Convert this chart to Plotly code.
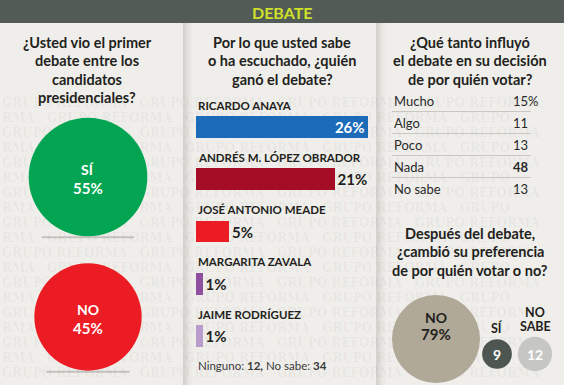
import plotly.graph_objects as go
import math

# ---------------- data ----------------
watched_labels = ["SÍ", "NO"]
watched_values = [55, 45]

winner_names = ["RICARDO ANAYA", "ANDRÉS M. LÓPEZ OBRADOR", "JOSÉ ANTONIO MEADE",
                "MARGARITA ZAVALA", "JAIME RODRÍGUEZ"]
winner_values = [26, 21, 5, 1, 1]
ninguno = 12
no_sabe_winner = 34

influence_labels = ["Mucho", "Algo", "Poco", "Nada", "No sabe"]
influence_values = [15, 11, 13, 48, 13]

change_labels = ["NO", "SÍ", "NO SABE"]
change_values = [79, 9, 12]

# ---------------- style ----------------
W, H = 564, 385
BG = "#efeeea"
DARK = "#231f20"
TITLE_FONT = "Lato"
winner_colors = ["#1a6bb8", "#a50d25", "#ec1c24", "#8e4f9e", "#b89ccc"]
watched_colors = ["#03a552", "#ec1c24"]
change_colors = ["#b0a998", "#4d5651", "#c6c6c4"]

fig = go.Figure()

# watermark texture (decoration), kept inside the frame
wm_x, wm_y, wm_t = [], [], []
for i, yy in enumerate(range(104, 380, 15)):
    if i % 2 == 0:
        wm_t.append("   ".join(["GRUPO REFORMA"] * 4))
    else:
        wm_t.append("RMA   " + "   ".join(["GRUPO REFORMA"] * 3) + "   GRUPO")
    wm_x.append(2)
    wm_y.append(yy)
fig.add_trace(go.Scatter(x=wm_x, y=wm_y, text=wm_t, mode="text", textposition="middle right",
                         textfont=dict(family="DejaVu Serif", size=12, color="rgba(0,0,0,0.045)", weight="bold"),
                         hoverinfo="skip", showlegend=False, cliponaxis=True, xaxis="x", yaxis="y"))

# left circles: size proportional to sqrt(value)
k1 = 16.0
left_pos = [(88, 177), (88, 317)]
fig.add_trace(go.Scatter(
    x=[p[0] for p in left_pos], y=[p[1] for p in left_pos], mode="markers",
    marker=dict(size=[k1 * math.sqrt(v) for v in watched_values], color=watched_colors, line=dict(width=0), opacity=1),
    hoverinfo="skip", showlegend=False, xaxis="x", yaxis="y"))

# right-bottom circles
k2 = 9.9
right_pos = [(436, 339), (497, 354), (535, 354)]
fig.add_trace(go.Scatter(
    x=[p[0] for p in right_pos], y=[p[1] for p in right_pos], mode="markers",
    marker=dict(size=[k2 * math.sqrt(v) for v in change_values], color=change_colors, line=dict(width=0), opacity=1),
    hoverinfo="skip", showlegend=False, xaxis="x", yaxis="y"))

# bars
textpos = ["inside" if i == 0 else "outside" for i, v in enumerate(winner_values)]
fig.add_trace(go.Bar(
    x=winner_values, y=winner_names, orientation="h", marker=dict(color=winner_colors, line=dict(width=0)),
    width=0.42, text=[f"{v}%" for v in winner_values], textposition=textpos, insidetextanchor="end",
    insidetextfont=dict(family=TITLE_FONT, size=15, color="white", weight="bold"),
    outsidetextfont=dict(family=TITLE_FONT, size=15, color=DARK, weight="bold"),
    constraintext="none", cliponaxis=False, hoverinfo="skip", showlegend=False, xaxis="x2", yaxis="y2"))

shapes = []
annotations = []

# header
shapes.append(dict(type="rect", xref="x", yref="y", x0=0, x1=W, y0=0, y1=23, fillcolor="#525b56", line=dict(width=0), layer="below"))
annotations.append(dict(xref="x", yref="y", x=W / 2, y=12, text="<b>DEBATE</b>", showarrow=False,
                        font=dict(family=TITLE_FONT, size=16, color="#cfe02a")))

# panel dividers / shadows
for xd in (183, 376):
    shapes.append(dict(type="rect", xref="x", yref="y", x0=xd, x1=xd + 2, y0=23, y1=H, fillcolor="#d4d3ce", line=dict(width=0), layer="below"))
    for j, a in enumerate([0.09, 0.06, 0.04, 0.025, 0.015]):
        shapes.append(dict(type="rect", xref="x", yref="y", x0=xd + 2 + j * 1.5, x1=xd + 3.5 + j * 1.5, y0=23, y1=H,
                           fillcolor=f"rgba(0,0,0,{a})", line=dict(width=0), layer="below"))

# circle shadows (left)
for (cx, cy), v in zip(left_pos, watched_values):
    r = k1 * math.sqrt(v) / 2
    shapes.append(dict(type="line", xref="x", yref="y", x0=cx - r * 0.78, x1=cx + r * 0.78, y0=cy + r + 1, y1=cy + r + 1,
                       line=dict(color="rgba(0,0,0,0.18)", width=2), layer="below"))

def title(lines, cx, y0, step=18.5, size=14.5):
    for i, t in enumerate(lines):
        annotations.append(dict(xref="x", yref="y", x=cx, y=y0 + i * step, text=f"<b>{t}</b>", showarrow=False,
                                font=dict(family=TITLE_FONT, size=size, color=DARK)))

title(["¿Usted vio el primer", "debate entre los", "candidatos", "presidenciales?"], 87, 42)
title(["Por lo que usted sabe", "o ha escuchado, ¿quién", "ganó el debate?"], 282, 42)
title(["¿Qué tanto influyó", "el debate en su decisión", "de por quién votar?"], 470, 42)
title(["Después del debate,", "¿cambió su preferencia", "de por quién votar o no?"], 470, 233)

# left circle labels
for (cx, cy), lab, v in zip(left_pos, watched_labels, watched_values):
    annotations.append(dict(xref="x", yref="y", x=cx, y=cy - 8, text=f"<b>{lab}</b>", showarrow=False,
                            font=dict(family=TITLE_FONT, size=14, color="white")))
    annotations.append(dict(xref="x", yref="y", x=cx, y=cy + 11, text=f"<b>{v}%</b>", showarrow=False,
                            font=dict(family=TITLE_FONT, size=15, color="white")))

# bar name labels
for n in winner_names:
    annotations.append(dict(xref="x2", yref="y2", x=0, y=n, yshift=22, xshift=0, xanchor="left", text=f"<b>{n}</b>",
                            showarrow=False, font=dict(family=TITLE_FONT, size=11.5, color=DARK)))

annotations.append(dict(xref="x", yref="y", x=196, y=365, xanchor="left",
                        text=f"Ninguno: <b>{ninguno},</b> No sabe: <b>{no_sabe_winner}</b>", showarrow=False,
                        font=dict(family=TITLE_FONT, size=11.5, color="#3a3a3a")))

# influence table
row0, rstep = 101, 22
for i, (lab, v) in enumerate(zip(influence_labels, influence_values)):
    yy = row0 + i * rstep
    vt = f"{v}%" if i == 0 else str(v)
    if lab == "Nada":
        vt = f"<b>{vt}</b>"
    annotations.append(dict(xref="x", yref="y", x=392, y=yy, xanchor="left", text=lab, showarrow=False,
                            font=dict(family=TITLE_FONT, size=13, color="#2a2a2a")))
    annotations.append(dict(xref="x", yref="y", x=511, y=yy, xanchor="left", text=vt, showarrow=False,
                            font=dict(family=TITLE_FONT, size=13, color="#2a2a2a")))
    if i < len(influence_labels) - 1:
        shapes.append(dict(type="line", xref="x", yref="y", x0=392, x1=531, y0=yy + 10.5, y1=yy + 10.5,
                           line=dict(color="#c8c7c2", width=1)))

# change circles labels
(nx, ny), (sx, sy), (bx, by) = right_pos
annotations.append(dict(xref="x", yref="y", x=nx, y=ny - 22, text=f"<b>{change_labels[0]}</b>", showarrow=False,
                        font=dict(family=TITLE_FONT, size=14, color=DARK)))
annotations.append(dict(xref="x", yref="y", x=nx, y=ny - 5, text=f"<b>{change_values[0]}%</b>", showarrow=False,
                        font=dict(family=TITLE_FONT, size=15, color=DARK)))
annotations.append(dict(xref="x", yref="y", x=sx, y=sy - 26, text=f"<b>{change_labels[1]}</b>", showarrow=False,
                        font=dict(family=TITLE_FONT, size=12.5, color=DARK)))
annotations.append(dict(xref="x", yref="y", x=sx, y=sy, text=f"<b>{change_values[1]}</b>", showarrow=False,
                        font=dict(family=TITLE_FONT, size=14, color="white")))
nl = change_labels[2].split(" ")
annotations.append(dict(xref="x", yref="y", x=bx, y=by - 42, text=f"<b>{nl[0]}</b>", showarrow=False,
                        font=dict(family=TITLE_FONT, size=12.5, color=DARK)))
annotations.append(dict(xref="x", yref="y", x=bx, y=by - 28, text=f"<b>{nl[1]}</b>", showarrow=False,
                        font=dict(family=TITLE_FONT, size=12.5, color=DARK)))
annotations.append(dict(xref="x", yref="y", x=bx, y=by, text=f"<b>{change_values[2]}</b>", showarrow=False,
                        font=dict(family=TITLE_FONT, size=14, color="white")))

px_per_pct = 6.6
bar_x0, bar_x1 = 196, 380
slot = 52.25
bar_top_center = 127
ny_ = len(winner_names)
yb_top = bar_top_center - slot / 2
yb_bot = yb_top + slot * ny_

fig.update_layout(
    width=W, height=H, margin=dict(l=0, r=0, t=0, b=0),
    paper_bgcolor=BG, plot_bgcolor="rgba(0,0,0,0)",
    shapes=shapes, annotations=annotations, showlegend=False,
    xaxis=dict(domain=[0, 1], range=[0, W], visible=False, fixedrange=True),
    yaxis=dict(domain=[0, 1], range=[H, 0], visible=False, fixedrange=True),
    xaxis2=dict(domain=[bar_x0 / W, bar_x1 / W], range=[0, (bar_x1 - bar_x0) / px_per_pct], visible=False,
                anchor="y2", fixedrange=True),
    yaxis2=dict(domain=[1 - yb_bot / H, 1 - yb_top / H], range=[ny_ - 0.5, -0.5], type="category",
                categoryorder="array", categoryarray=winner_names, visible=False, anchor="x2", fixedrange=True),
    bargap=0,
)

fig.write_html("out.html", config={"displayModeBar": False, "staticPlot": True},
               post_script="document.body.style.margin='0';document.body.style.overflow='hidden';")
